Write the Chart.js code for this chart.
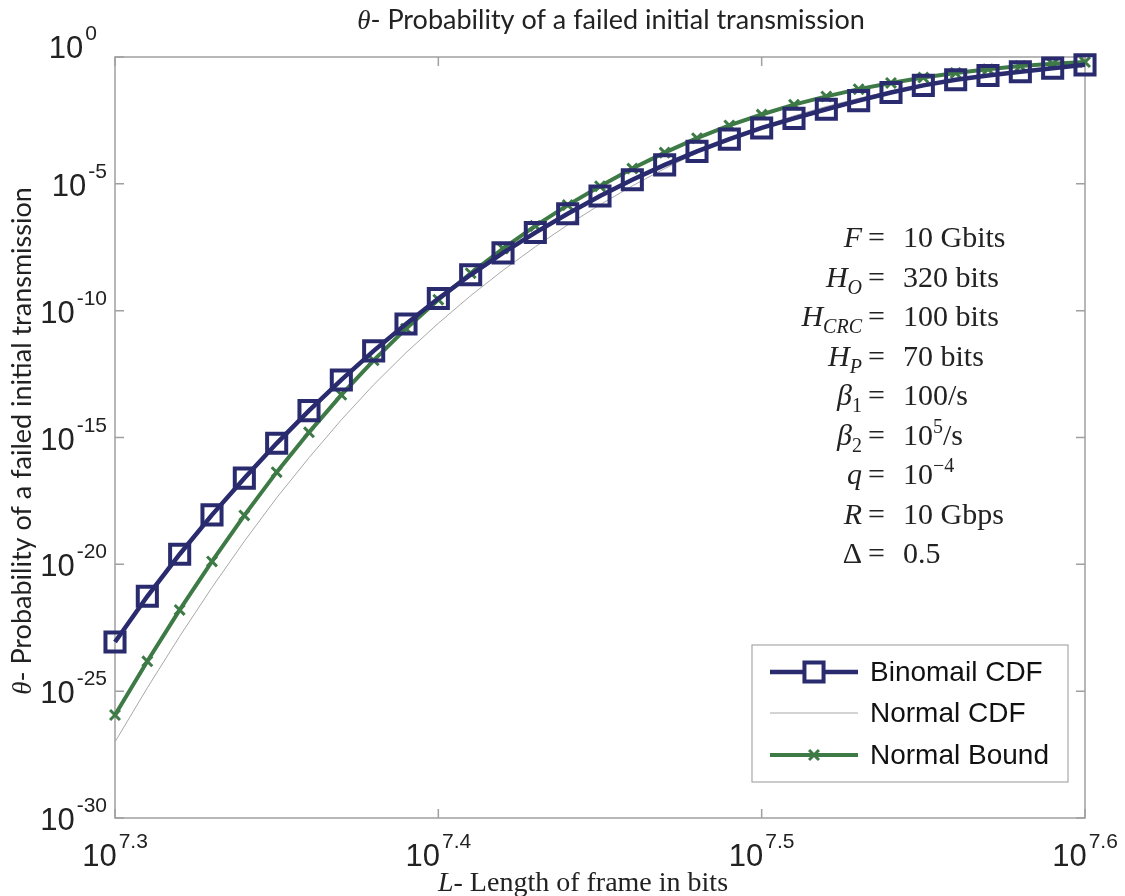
<!DOCTYPE html>
<html>
<head>
<meta charset="utf-8">
<script src="https://cdn.jsdelivr.net/npm/chart.js@4.4.0/dist/chart.umd.min.js"></script>
<style>
  html, body { margin: 0; padding: 0; background: #fff; }
  #wrap { width: 1125px; height: 896px; }
</style>
</head>
<body>
<div id="wrap"><canvas id="chart" width="1125" height="896"></canvas></div>
<script>
// Frame length L in bits: 10^7.30 ... 10^7.60, one point per 0.01 decade
const frameBits = [
  19952623, 20417379, 20892961, 21379621, 21877616, 22387211, 22908677, 23442288,
  23988329, 24547089, 25118864, 25703958, 26302680, 26915348, 27542287, 28183829,
  28840315, 29512092, 30199517, 30902954, 31622777, 32359366, 33113112, 33884416,
  34673685, 35481339, 36307805, 37153523, 38018940, 38904514, 39810717,
];

// Probability of a failed initial transmission
const binomialCdf = [
  8.7e-24, 5.5e-22, 2.5e-20, 8.9e-19, 2.5e-17, 5.9e-16, 1.15e-14, 1.86e-13,
  2.6e-12, 3.0e-11, 3.0e-10, 2.6e-9, 1.9e-8, 1.2e-7, 6.6e-7, 3.3e-6,
  1.45e-5, 5.6e-5, 1.9e-4, 5.8e-4, 1.6e-3, 3.8e-3, 8.7e-3, 0.019,
  0.040, 0.076, 0.126, 0.186, 0.263, 0.363, 0.49,
];
const normalCdf = [
  1.0e-27, 1.35e-25, 1.45e-23, 1.23e-21, 8.1e-20, 4.2e-18, 1.6e-16, 5.0e-15,
  1.2e-13, 2.2e-12, 3.2e-11, 3.9e-10, 3.9e-9, 3.3e-8, 2.4e-7, 1.5e-6,
  8.3e-6, 4.0e-5, 1.66e-4, 5.9e-4, 1.8e-3, 4.8e-3, 0.0112, 0.0234,
  0.0457, 0.079, 0.129, 0.195, 0.275, 0.363, 0.457,
];
const normalBound = [
  1.15e-26, 1.5e-24, 1.6e-22, 1.3e-20, 8.5e-19, 4.3e-17, 1.6e-15, 4.8e-14,
  1.1e-12, 1.95e-11, 2.7e-10, 3.0e-9, 2.8e-8, 2.2e-7, 1.45e-6, 8.1e-6,
  4.0e-5, 1.7e-4, 6.3e-4, 2.0e-3, 5.4e-3, 0.0132, 0.028, 0.054,
  0.095, 0.155, 0.234, 0.33, 0.44, 0.54, 0.63,
];

const seriesNames = ["Binomail CDF", "Normal CDF", "Normal Bound"];

// Tick exponents (labels are 10^exp)
const xTickExp = ["7.3", "7.4", "7.5", "7.6"];
const yTickExp = ["0", "-5", "-10", "-15", "-20", "-25", "-30"];

// Parameter box on the right
const paramLines = [
  { name: "F", sub: "", value: "10 Gbits" },
  { name: "H", sub: "O", value: "320 bits" },
  { name: "H", sub: "CRC", value: "100 bits" },
  { name: "H", sub: "P", value: "70 bits" },
  { name: "β", sub: "1", value: "100/s" },
  { name: "β", sub: "2", value: "10", sup: "5", tail: "/s" },
  { name: "q", sub: "", value: "10", sup: "−4", tail: "" },
  { name: "R", sub: "", value: "10 Gbps" },
  { name: "Δ", sub: "", value: "0.5" },
];

const navy = "#292B6E";
const green = "#3E7A46";
const grey = "#A8A8A8";
const axisColor = "#A0A0A0";
const textColor = "#222222";

const sans = "'Liberation Sans', Arial, sans-serif";
const serif = "'Liberation Serif', 'Times New Roman', serif";
const titleFont = "Lato, 'Noto Sans', sans-serif";

// draws "10" with a raised exponent; align is "center" or "right"
function drawPow(ctx, exp, x, y, align) {
  ctx.font = "31px " + sans;
  const wb = ctx.measureText("10").width;
  ctx.font = "21px " + sans;
  const we = ctx.measureText(exp).width;
  const total = wb + 2 + we;
  let left = align === "right" ? x - total : x - total / 2;
  ctx.textAlign = "left";
  ctx.textBaseline = "alphabetic";
  ctx.font = "31px " + sans;
  ctx.fillText("10", left, y);
  ctx.font = "21px " + sans;
  ctx.fillText(exp, left + wb + 2, y - 18);
}

// draws a list of [text, font, dy] pieces in a row, returns width
function drawRow(ctx, pieces, x, y, measureOnly) {
  let cx = x;
  for (const [txt, font, dy] of pieces) {
    ctx.font = font;
    if (!measureOnly) ctx.fillText(txt, cx, y + (dy || 0));
    cx += ctx.measureText(txt).width;
  }
  return cx - x;
}

const decorations = {
  id: "decorations",
  beforeDatasetsDraw(chart) {
    const { ctx, chartArea: a, scales: { x, y } } = chart;
    ctx.save();
    ctx.strokeStyle = axisColor;
    ctx.lineWidth = 1.5;
    ctx.strokeRect(a.left, a.top, a.right - a.left, a.bottom - a.top);
    ctx.beginPath();
    yTickExp.forEach((e) => {
      const py = y.getPixelForValue(Math.pow(10, +e));
      ctx.moveTo(a.left, py); ctx.lineTo(a.left + 9, py);
      ctx.moveTo(a.right, py); ctx.lineTo(a.right - 9, py);
    });
    xTickExp.forEach((e) => {
      const px = x.getPixelForValue(Math.pow(10, +e));
      ctx.moveTo(px, a.bottom); ctx.lineTo(px, a.bottom - 9);
      ctx.moveTo(px, a.top); ctx.lineTo(px, a.top + 9);
    });
    ctx.stroke();
    ctx.restore();
  },
  afterDatasetsDraw(chart) {
    const { ctx, chartArea: a, scales: { x, y } } = chart;
    ctx.save();
    ctx.fillStyle = textColor;

    // tick labels (the top one sits a little higher and further left)
    yTickExp.forEach((e, i) => {
      const py = y.getPixelForValue(Math.pow(10, +e));
      if (i === 0) drawPow(ctx, e, a.left - 18, py + 1, "right");
      else drawPow(ctx, e, a.left - 8, py + 12, "right");
    });
    xTickExp.forEach((e) => {
      const px = x.getPixelForValue(Math.pow(10, +e));
      drawPow(ctx, e, px, a.bottom + 48, "center");
    });

    // title
    ctx.textAlign = "left";
    ctx.textBaseline = "alphabetic";
    const titlePieces = [["θ", "italic 27px " + serif], ["- Probability of a failed initial transmission", "27px " + titleFont]];
    let w = drawRow(ctx, titlePieces, 0, 0, true);
    drawRow(ctx, titlePieces, 611 - w / 2, 29);

    // y axis title
    ctx.save();
    ctx.translate(31, 441);
    ctx.rotate(-Math.PI / 2);
    w = drawRow(ctx, titlePieces, 0, 0, true);
    drawRow(ctx, titlePieces, -w / 2, 0);
    ctx.restore();

    // x axis title
    const xPieces = [["L", "italic 28px " + serif], ["- Length of frame in bits", "28px " + serif]];
    w = drawRow(ctx, xPieces, 0, 0, true);
    drawRow(ctx, xPieces, 583 - w / 2, 891);

    // parameter lines
    const big = "30px " + serif, bigI = "italic 30px " + serif;
    const small = "20px " + serif, smallI = "italic 20px " + serif;
    paramLines.forEach((p, i) => {
      const base = 247 + 39.5 * i;
      const nameFont = (p.name === "Δ") ? big : bigI;
      const subFont = /^[0-9]+$/.test(p.sub) ? small : smallI;
      const lhs = [[p.name, nameFont]];
      if (p.sub) lhs.push([p.sub, subFont, 7]);
      const lw = drawRow(ctx, lhs, 0, 0, true);
      drawRow(ctx, lhs, 862 - lw, base);
      ctx.font = big;
      ctx.fillText("=", 868, base);
      const rhs = [[p.value, big]];
      if (p.sup) { rhs.push([p.sup, small, -12]); rhs.push([p.tail, big]); }
      drawRow(ctx, rhs, 903, base);
    });
    ctx.restore();

    // legend
    const lg = { left: 752, top: 645, right: 1068, bottom: 782 };
    ctx.save();
    ctx.fillStyle = "#fff";
    ctx.fillRect(lg.left, lg.top, lg.right - lg.left, lg.bottom - lg.top);
    ctx.strokeStyle = "#A8A8A8";
    ctx.lineWidth = 1.2;
    ctx.strokeRect(lg.left, lg.top, lg.right - lg.left, lg.bottom - lg.top);
    const rows = [672, 713, 755];
    chart.data.datasets.forEach((ds, i) => {
      const ry = rows[i];
      ctx.strokeStyle = ds.borderColor;
      ctx.lineWidth = ds.borderWidth;
      ctx.beginPath();
      ctx.moveTo(770, ry); ctx.lineTo(858, ry);
      ctx.stroke();
      if (ds.pointRadius > 0) {
        ctx.strokeStyle = ds.pointBorderColor;
        ctx.fillStyle = "#fff";
        ctx.lineWidth = ds.pointBorderWidth;
        Chart.helpers.drawPoint(ctx, {
          pointStyle: ds.pointStyle, radius: ds.pointRadius,
          borderWidth: ds.pointBorderWidth, rotation: 0,
        }, 814, ry);
      }
      ctx.fillStyle = "#111";
      ctx.font = "28px " + sans;
      ctx.textAlign = "left";
      ctx.textBaseline = "middle";
      ctx.fillText(ds.label, 870, ry + 1);
    });
    ctx.restore();
  },
};

const ctx = document.getElementById("chart");
const chart = new Chart(ctx, {
  type: "line",
  plugins: [decorations],
  data: {
    labels: frameBits,
    datasets: [
      {
        label: seriesNames[0],
        data: frameBits.map((L, i) => ({ x: L, y: binomialCdf[i] })),
        borderColor: navy,
        borderWidth: 4.5,
        pointStyle: "rect",
        pointRadius: 13.5,
        pointBorderWidth: 4,
        pointBorderColor: navy,
        pointBackgroundColor: "rgba(0,0,0,0)",
        clip: false,
      },
      {
        label: seriesNames[1],
        data: frameBits.map((L, i) => ({ x: L, y: normalCdf[i] })),
        borderColor: grey,
        borderWidth: 1,
        pointRadius: 0,
        clip: false,
      },
      {
        label: seriesNames[2],
        data: frameBits.map((L, i) => ({ x: L, y: normalBound[i] })),
        borderColor: green,
        borderWidth: 4,
        pointStyle: "crossRot",
        pointRadius: 7,
        pointBorderWidth: 3,
        pointBorderColor: green,
        pointBackgroundColor: green,
        clip: false,
      },
    ],
  },
  options: {
    responsive: false,
    animation: false,
    layout: { padding: { left: 107, right: 40, top: 57, bottom: 70 } },
    elements: { line: { tension: 0 } },
    plugins: {
      legend: { display: false },
      tooltip: { enabled: false },
      title: { display: false },
    },
    scales: {
      x: {
        type: "logarithmic",
        min: frameBits[0],
        max: frameBits[frameBits.length - 1],
        afterBuildTicks: (s) => { s.ticks = xTickExp.map((e) => ({ value: Math.pow(10, +e) })); },
        ticks: { display: false },
        grid: { display: false },
        border: { display: false },
      },
      y: {
        type: "logarithmic",
        min: 1e-30,
        max: 1,
        afterBuildTicks: (s) => { s.ticks = yTickExp.map((e) => ({ value: Math.pow(10, +e) })); },
        ticks: { display: false },
        grid: { display: false },
        border: { display: false },
      },
    },
  },
});
</script>
</body>
</html>
